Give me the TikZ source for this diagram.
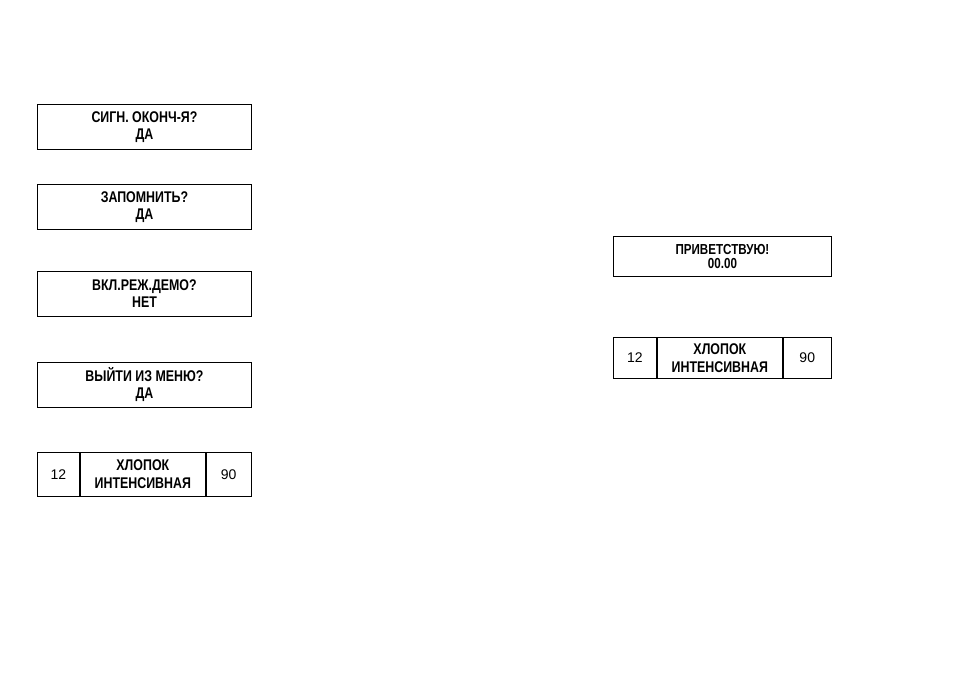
\documentclass[tikz,border=0pt]{standalone}
\usepackage{fontspec}
\setmainfont{Liberation Sans}
\newfontfamily\narrowfont[FakeStretch=0.8]{Liberation Sans}
\usetikzlibrary{positioning}

\begin{document}
\begin{tikzpicture}[
    x=1pt, y=-1pt,
    node distance=34pt,
    screen/.style={rectangle, draw=black, line width=0.9pt, minimum width=214pt, minimum height=45pt,
                   align=center, inner sep=0pt, font=\narrowfont\fontsize{15.5}{17}\selectfont\bfseries},
    cell/.style={rectangle, draw=black, line width=0.9pt, minimum height=44pt, inner sep=0pt,
                 align=center, font=\fontsize{14}{16}\selectfont},
    midcell/.style={cell, font=\narrowfont\fontsize{15.5}{18}\selectfont\bfseries}
  ]
  \useasboundingbox (0,0) rectangle (954,674);

  % left column
  \node[screen, anchor=north west] (signal) at (37,104) {СИГН. ОКОНЧ-Я?\\ДА};
  \node[screen, below=34pt of signal] (save) {ЗАПОМНИТЬ?\\ДА};
  \node[screen, below=41pt of save]   (demo) {ВКЛ.РЕЖ.ДЕМО?\\НЕТ};
  \node[screen, below=45pt of demo]   (quit) {ВЫЙТИ ИЗ МЕНЮ?\\ДА};
  \node[cell, minimum width=42pt, anchor=north west] (temp) at (37,452) {12};
  \node[midcell, minimum width=125pt, right=0pt of temp] (prog) {ХЛОПОК\\ИНТЕНСИВНАЯ};
  \node[cell, minimum width=45pt, right=0pt of prog] (time) {90};

  % right column
  \node[screen, minimum width=218pt, minimum height=40pt, anchor=north west,
        font=\narrowfont\fontsize{14.5}{14.5}\selectfont\bfseries] (hello) at (613,236) {ПРИВЕТСТВУЮ!\\00.00};
  \node[cell, minimum width=43pt, minimum height=41pt, anchor=north west] (tempb) at (613,337) {12};
  \node[midcell, minimum width=125pt, minimum height=41pt, right=0pt of tempb] (progb) {ХЛОПОК\\ИНТЕНСИВНАЯ};
  \node[cell, minimum width=48pt, minimum height=41pt, right=0pt of progb] (timeb) {90};
\end{tikzpicture}
\end{document}
